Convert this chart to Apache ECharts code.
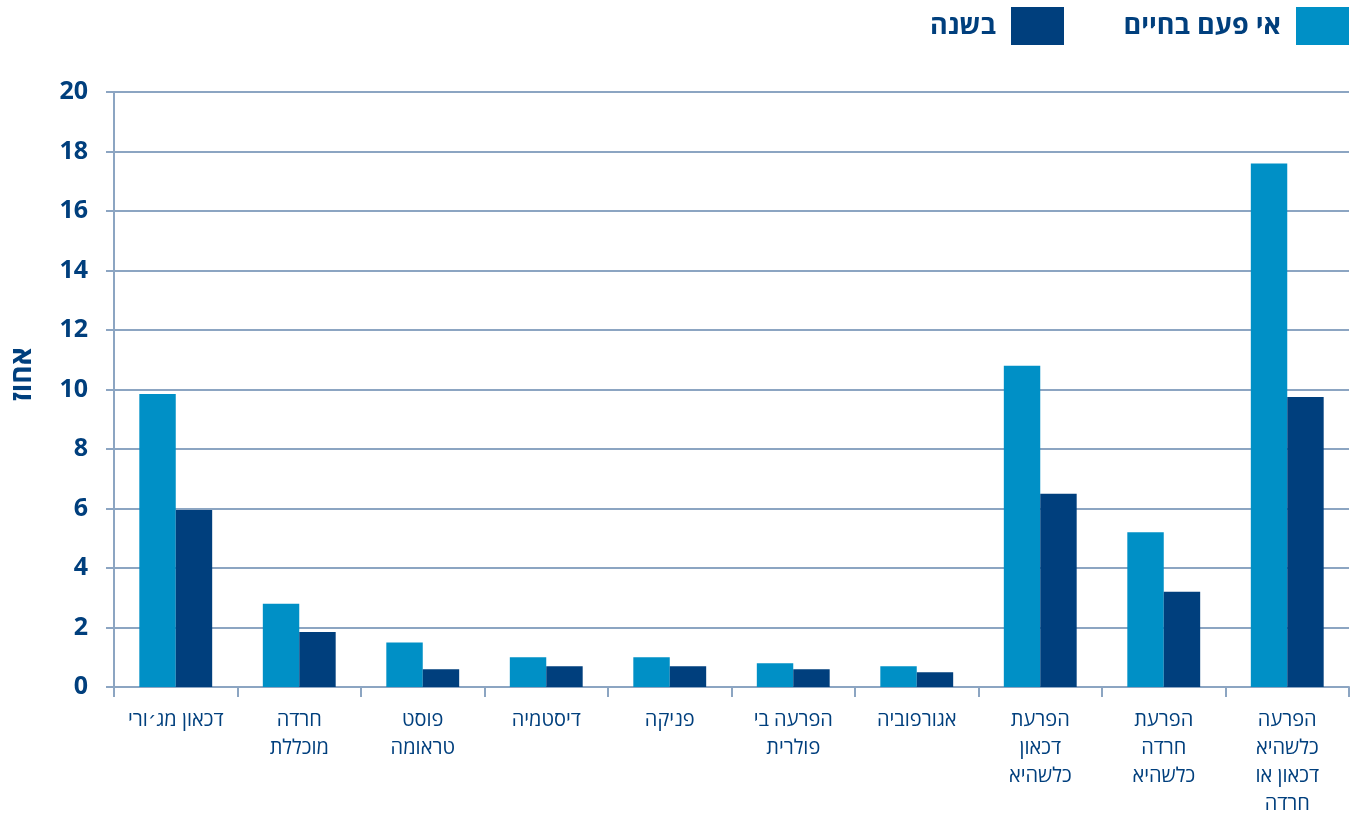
<!DOCTYPE html>
<html>
<head>
<meta charset="utf-8">
<script src="https://cdn.jsdelivr.net/npm/echarts@6/dist/echarts.min.js"></script>
<style>
  html, body { margin: 0; padding: 0; background: #ffffff; }
  #chart { width: 1350px; height: 814px; }
</style>
</head>
<body>
<div id="chart"></div>
<script>
// Disorder categories (Hebrew, multi-line labels)
const categories = [
  'דכאון מג׳ורי',
  'חרדה\nמוכללת',
  'פוסט\nטראומה',
  'דיסטמיה',
  'פניקה',
  'הפרעה בי\nפולרית',
  'אגורפוביה',
  'הפרעת\nדכאון\nכלשהיא',
  'הפרעת\nחרדה\nכלשהיא',
  'הפרעה\nכלשהיא\nדכאון או\nחרדה'
];

// Prevalence, percent
const lifetime = [9.85, 2.8, 1.5, 1.0, 1.0, 0.8, 0.7, 10.8, 5.2, 17.6];
const pastYear = [5.95, 1.85, 0.6, 0.7, 0.7, 0.6, 0.5, 6.5, 3.2, 9.75];

const seriesNames = ['אי פעם בחיים', 'בשנה'];
const yAxisName = 'אחוז';

const NAVY = '#003F7D';
const LIGHT = '#0090C6';
const GRID = '#8CA5C2';
const FONT = '"Open Sans", "DejaVu Sans", sans-serif';

const chart = echarts.init(document.getElementById('chart'), null, { renderer: 'canvas' });

const legendText = {
  color: NAVY,
  fontSize: 27,
  fontWeight: 'bold',
  fontFamily: FONT,
  padding: [0, 10, 0, 0]
};

chart.setOption({
  animation: false,
  backgroundColor: '#ffffff',
  legend: [
    {
      data: [seriesNames[0]],
      right: 1,
      top: 7,
      padding: 0,
      align: 'right',
      itemWidth: 53,
      itemHeight: 38,
      icon: 'rect',
      textStyle: legendText
    },
    {
      data: [seriesNames[1]],
      right: 286,
      top: 7,
      padding: 0,
      align: 'right',
      itemWidth: 53,
      itemHeight: 38,
      icon: 'rect',
      textStyle: legendText
    }
  ],
  grid: {
    left: 114,
    right: 1,
    top: 92,
    bottom: 127,
    containLabel: false,
    outerBoundsMode: 'none'
  },
  xAxis: {
    type: 'category',
    data: categories,
    boundaryGap: true,
    axisLine: { show: true, lineStyle: { color: GRID, width: 2 } },
    axisTick: { show: true, length: 10, interval: 0, lineStyle: { color: GRID, width: 2 } },
    axisLabel: {
      interval: 0,
      margin: 19,
      color: NAVY,
      fontSize: 20,
      lineHeight: 28,
      fontFamily: FONT,
      verticalAlign: 'top'
    }
  },
  yAxis: {
    type: 'value',
    min: 0,
    max: 20,
    interval: 2,
    name: yAxisName,
    nameLocation: 'middle',
    nameRotate: 90,
    nameGap: 77,
    nameTextStyle: {
      color: NAVY,
      fontSize: 28,
      fontWeight: 'bold',
      fontFamily: FONT,
      padding: [0, 0, 0, 30]
    },
    axisLine: { show: true, lineStyle: { color: GRID, width: 2 } },
    axisTick: { show: true, length: 8, lineStyle: { color: GRID, width: 2 } },
    axisLabel: {
      margin: 26,
      color: NAVY,
      fontSize: 25,
      fontWeight: 'bold',
      fontFamily: FONT
    },
    splitLine: { show: true, lineStyle: { color: GRID, width: 2 } }
  },
  series: [
    {
      name: seriesNames[0],
      type: 'bar',
      data: lifetime,
      barGap: '0%',
      barCategoryGap: '41%',
      itemStyle: { color: LIGHT }
    },
    {
      name: seriesNames[1],
      type: 'bar',
      data: pastYear,
      itemStyle: { color: NAVY }
    }
  ]
});
</script>
</body>
</html>
